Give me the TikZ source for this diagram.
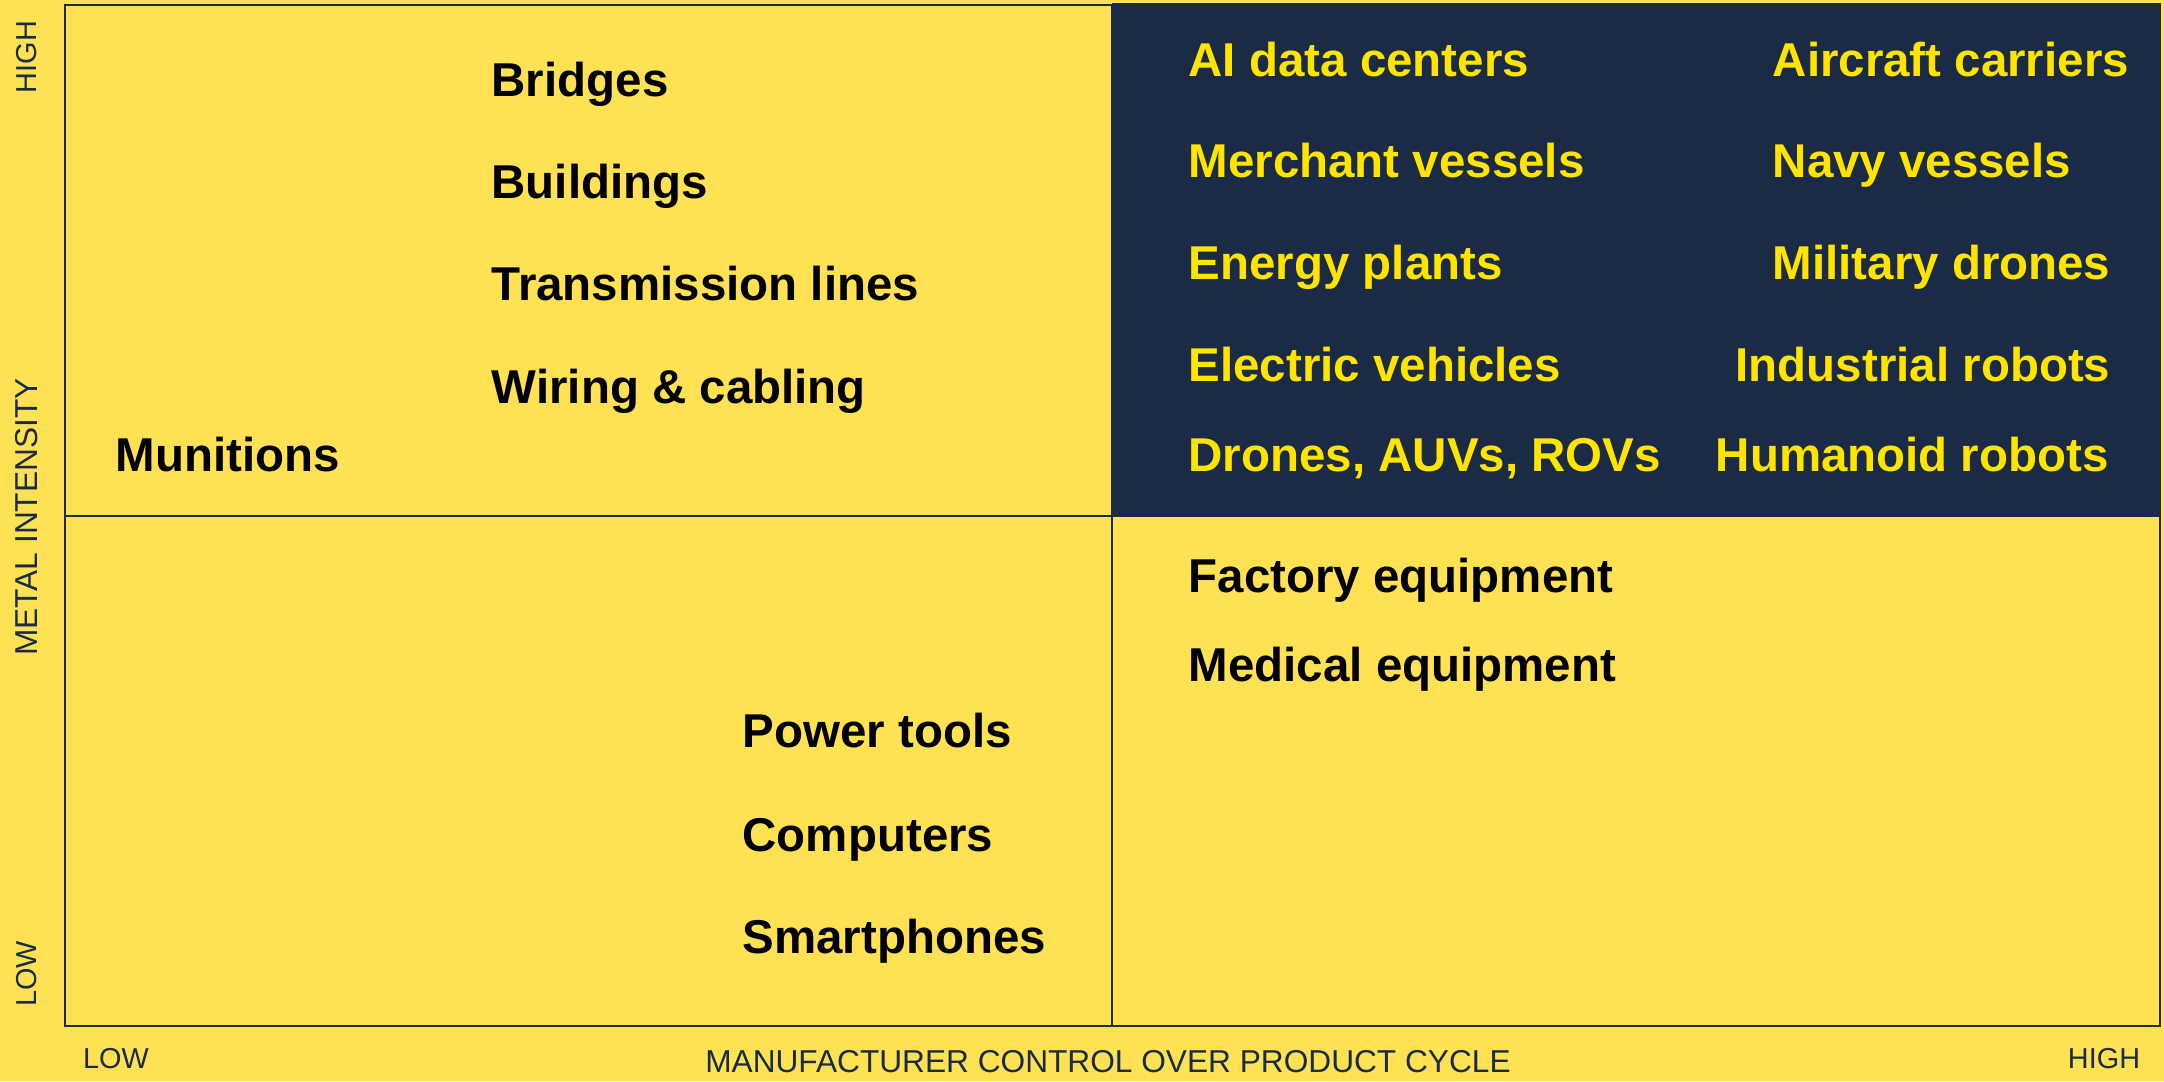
\documentclass[tikz,border=0pt]{standalone}
\usepackage{fontspec}
\setmainfont{Liberation Sans}
\usepackage{xcolor}
\definecolor{gold}{HTML}{FFE254}
\definecolor{navy}{HTML}{1B2B45}
\definecolor{lemon}{HTML}{FFE400}

\begin{document}
\begin{tikzpicture}[x=0.01cm, y=-0.01cm, item/.style={anchor=base west, inner sep=0, font=\fontsize{13.5}{16}\selectfont\bfseries}, dark item/.style={item, text=lemon}, axis/.style={inner sep=0, text=navy, font=\fontsize{8.2}{10}\selectfont}, axis title/.style={axis, font=\fontsize{9}{11}\selectfont}]
\fill[gold] (0,0) rectangle (2164,1081);
\useasboundingbox (0,0) rectangle (2164,1081);
\fill[navy] (1112,3) rectangle (2161,516);
\draw[navy, line width=0.45pt] (1112,5) -- (1112,1026) (65,516) -- (2160,516);
\draw[navy, line width=0.65pt] (65,5) rectangle (2160,1026);
% axes
\node[axis, rotate=90] (yhigh) at (27,57) {HIGH};
\node[axis title, rotate=90] (ylabel) at (27,517) {METAL INTENSITY};
\node[axis, rotate=90] (ylow) at (27,974) {LOW};
\node[axis] (xlow) at (116,1059) {LOW};
\node[axis title] (xlabel) at (1108,1062) {MANUFACTURER CONTROL OVER PRODUCT CYCLE};
\node[axis] (xhigh) at (2104,1059) {HIGH};
% high metal, low control
\node[item] (bridges) at (491,96) {Bridges};
\node[item] (buildings) at (491,198) {Buildings};
\node[item] (lines) at (491,300) {Transmission lines};
\node[item] (wiring) at (491,403) {Wiring \& cabling};
\node[item] (munitions) at (115,471) {Munitions};
% high metal, high control
\node[dark item] (ai) at (1188,76) {AI data centers};
\node[dark item] (merchant) at (1188,177) {Merchant vessels};
\node[dark item] (energy) at (1188,279) {Energy plants};
\node[dark item] (ev) at (1188,381) {Electric vehicles};
\node[dark item] (drones) at (1188,471) {Drones, AUVs, ROVs};
\node[dark item] (carriers) at (1772,76) {Aircraft carriers};
\node[dark item] (navy) at (1772,177) {Navy vessels};
\node[dark item] (military) at (1772,279) {Military drones};
\node[dark item] (industrial) at (1735,381) {Industrial robots};
\node[dark item] (humanoid) at (1715,471) {Humanoid robots};
% low metal
\node[item] (factory) at (1188,592) {Factory equipment};
\node[item] (medical) at (1188,681) {Medical equipment};
\node[item] (tools) at (742,747) {Power tools};
\node[item] (computers) at (742,851) {Computers};
\node[item] (phones) at (742,953) {Smartphones};
\end{tikzpicture}
\end{document}
